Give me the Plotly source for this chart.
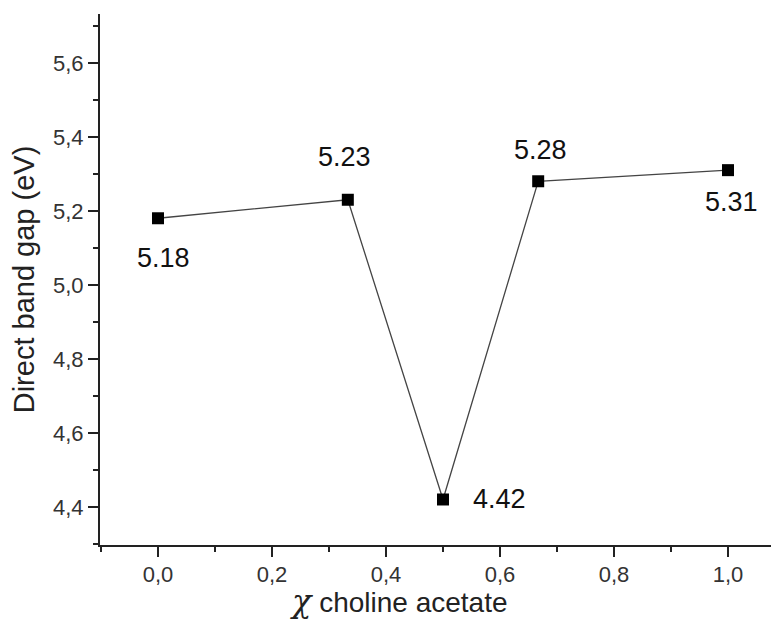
import plotly.graph_objects as go

x_vals = [0.0, 0.333, 0.5, 0.667, 1.0]
band_gap = [5.18, 5.23, 4.42, 5.28, 5.31]
point_labels = ["5.18", "5.23", "4.42", "5.28", "5.31"]
label_shifts = [(5, -40), (-3, 43), (56, 0), (2, 31), (4, -32)]

x_title_chi = "χ"
x_title_rest = "choline acetate"
y_title = "Direct band gap (eV)"

FONT = "Liberation Sans, Arial, sans-serif"
AX = "#222222"

fig = go.Figure()
fig.add_trace(go.Scatter(
    x=x_vals, y=band_gap, mode="lines+markers",
    line=dict(color="#444444", width=1.3),
    marker=dict(symbol="square", size=12, color="black"),
    showlegend=False, hoverinfo="skip",
))

for xv, yv, lab, (dx, dy) in zip(x_vals, band_gap, point_labels, label_shifts):
    fig.add_annotation(x=xv, y=yv, xref="x", yref="y", text=lab, showarrow=False,
                       xshift=dx, yshift=dy,
                       font=dict(family=FONT, size=27, color="#111111"))

axis_common = dict(
    showline=True, linecolor=AX, linewidth=2.2, mirror=False,
    showgrid=False, zeroline=False, automargin=False,
    ticks="outside", ticklen=10, tickwidth=2, tickcolor=AX,
    tickfont=dict(family=FONT, size=22, color="#333333"),
    minor=dict(ticks="outside", ticklen=5, tickwidth=2, tickcolor=AX, dtick=0.1, tick0=0),
)

# page body has an 8px margin: figure is sized/offset to compensate
W, H = 771, 613
ML, MR, MT, MB = 92, 0, 6, 76
PW, PH = W - ML - MR, H - MT - MB

fig.update_layout(
    width=W, height=H,
    margin=dict(l=ML, r=MR, t=MT, b=MB),
    paper_bgcolor="white", plot_bgcolor="white",
    separators=",.",
    font=dict(family=FONT),
    xaxis=dict(range=[-0.1018, 1.0895], dtick=0.2, tick0=0, tickformat=".1f",
               ticklabelstandoff=-2, **axis_common),
    yaxis=dict(range=[4.297, 5.732], dtick=0.2, tick0=0, tickformat=".1f",
               title=dict(text=y_title, font=dict(family=FONT, size=29, color="#222222"), standoff=10),
               **axis_common),
)

fig.add_annotation(
    x=(391 - ML) / PW, y=-(56) / PH, xref="paper", yref="paper",
    showarrow=False, yanchor="middle", xanchor="center",
    text=("<span style='font-family:DejaVu Serif, serif;font-size:32px;font-style:italic'>"
          + x_title_chi + "</span> " + x_title_rest),
    font=dict(family=FONT, size=28, color="#222222"),
)

fig.write_html("out.html")
